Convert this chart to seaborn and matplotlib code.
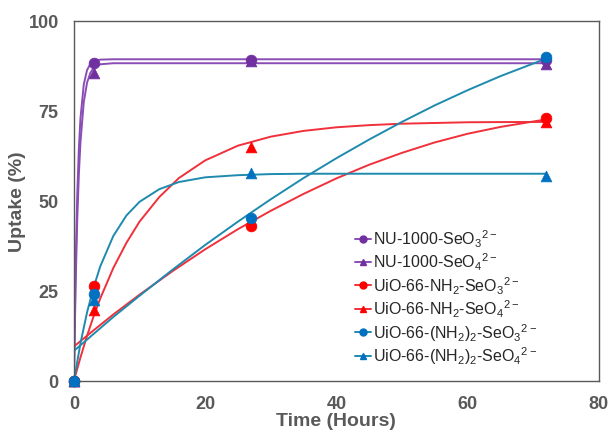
import matplotlib
matplotlib.use('Agg')
import matplotlib.pyplot as plt
from matplotlib.lines import Line2D
import numpy as np
import pandas as pd
import seaborn as sns

# measured points
time_pts = [0, 3, 27, 72]
nu_seo3 = [0, 88.4, 89.0, 89.2]
nu_seo4 = [0, 85.5, 88.8, 88.0]
nh2_seo3 = [0, 26.2, 43.0, 73.0]
nh2_seo4 = [0, 19.6, 65.0, 71.8]
nh22_seo3 = [0, 24.0, 45.3, 90.0]
nh22_seo4 = [0, 22.4, 57.6, 57.0]

# fit curves
t_fast = [0, 0.25, 0.5, 0.75, 1, 1.5, 2, 2.5, 3, 4, 6, 72]
fit_nu_seo3 = [0, 30.9, 51.2, 64.4, 73.0, 82.3, 86.3, 88.0, 88.8, 89.2, 89.3, 89.3]
fit_nu_seo4 = [0, 26.0, 44.4, 57.3, 66.4, 77.4, 82.8, 85.5, 86.9, 87.9, 88.2, 88.2]

t_sat = [0, 1, 2, 3, 4, 6, 8, 10, 13, 16, 20, 25, 30, 35, 40, 45, 50, 55, 60, 65, 72]
fit_nh2_seo4 = [0, 6.5, 12.5, 17.9, 22.8, 31.3, 38.3, 44.2, 51.0, 56.3, 61.2, 65.3,
                67.8, 69.4, 70.4, 71.0, 71.4, 71.6, 71.8, 71.85, 71.9]
fit_nh22_seo4 = [0, 10.4, 19.0, 25.9, 31.7, 40.2, 45.9, 49.7, 53.2, 55.2, 56.5, 57.1,
                 57.4, 57.5, 57.5, 57.5, 57.5, 57.5, 57.5, 57.5, 57.5]

t_slow = [0, 3, 6, 10, 15, 20, 25, 30, 35, 40, 45, 50, 55, 60, 65, 72]
fit_nh2_seo3 = [9.5, 14.0, 18.4, 23.9, 30.4, 36.5, 42.1, 47.2, 51.9, 56.2, 60.0,
                63.3, 66.2, 68.6, 70.5, 72.6]
fit_nh22_seo3 = [8.3, 13.0, 17.7, 23.6, 30.8, 37.7, 44.2, 50.4, 56.3, 61.8, 67.0,
                 71.9, 76.5, 80.7, 84.6, 89.5]

labels = ['NU-1000-SeO$_3$$^{2-}$', 'NU-1000-SeO$_4$$^{2-}$',
          'UiO-66-NH$_2$-SeO$_3$$^{2-}$', 'UiO-66-NH$_2$-SeO$_4$$^{2-}$',
          'UiO-66-(NH$_2$)$_2$-SeO$_3$$^{2-}$', 'UiO-66-(NH$_2$)$_2$-SeO$_4$$^{2-}$']

purple = '#7030a0'
purple_line = '#8a4db5'
red = '#ff0000'
red_line = '#f0303a'
blue = '#0070c0'
blue_line = '#1e8aae'

sns.set_style('white')
plt.rcParams['font.family'] = ['Liberation Sans', 'DejaVu Sans']
plt.rcParams['mathtext.fontset'] = 'custom'
plt.rcParams['mathtext.rm'] = 'Liberation Sans'

fig = plt.figure(figsize=(6.11, 4.35), dpi=100)
ax = fig.add_axes([0.121, 0.1225, 0.859, 0.8275])

curves = [
    (t_fast, fit_nu_seo3, purple_line),
    (t_fast, fit_nu_seo4, purple_line),
    (t_slow, fit_nh2_seo3, red_line),
    (t_sat, fit_nh2_seo4, red_line),
    (t_slow, fit_nh22_seo3, blue_line),
    (t_sat, fit_nh22_seo4, blue_line),
]
for tx, ty, c in curves:
    sns.lineplot(x=tx, y=ty, color=c, lw=1.4, ax=ax, sort=False, estimator=None)

points = [
    (nu_seo3, purple, 'o'),
    (nu_seo4, purple, '^'),
    (nh2_seo3, red, 'o'),
    (nh2_seo4, red, '^'),
    (nh22_seo3, blue, 'o'),
    (nh22_seo4, blue, '^'),
]
for vals, c, m in points:
    sns.scatterplot(x=time_pts, y=vals, color=c, marker=m, s=60, edgecolor=c,
                    linewidth=0.5, ax=ax, zorder=3, clip_on=False)

handles = []
for (tx, ty, lc), (vals, c, m) in zip(curves, points):
    handles.append(Line2D([], [], color=lc, lw=1.4, marker=m, markersize=5,
                          markerfacecolor=c, markeredgecolor=c))
ax.legend(handles, labels, loc='upper left', bbox_to_anchor=(0.535, 0.425),
          frameon=False, fontsize=11.5, handlelength=1.0, handletextpad=0.15,
          labelspacing=0.12, borderpad=0, borderaxespad=0, labelcolor='#262626')

ax.set_xlim(0, 80)
ax.set_ylim(0, 100)
ax.set_xticks([0, 20, 40, 60, 80])
ax.set_yticks([0, 25, 50, 75, 100])
ax.tick_params(axis='both', direction='out', length=4, width=0.8, color='#7f7f7f',
               labelsize=13, labelcolor='#595959')
ax.tick_params(axis='x', pad=6)
ax.tick_params(axis='y', pad=7)
for lab in ax.get_xticklabels() + ax.get_yticklabels():
    lab.set_fontweight('bold')
for sp in ax.spines.values():
    sp.set_color('#595959')
    sp.set_linewidth(1.0)
ax.set_xlabel('Time (Hours)', fontsize=14, fontweight='bold', color='#595959', labelpad=0)
ax.set_ylabel('Uptake (%)', fontsize=14, fontweight='bold', color='#595959', labelpad=2)

fig.savefig('out.png', dpi=100)
